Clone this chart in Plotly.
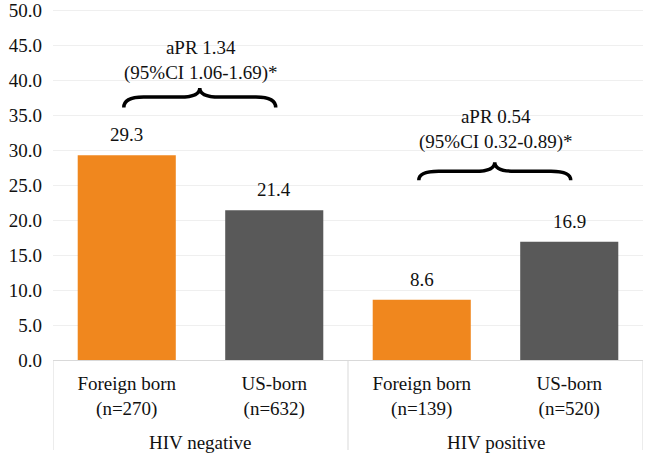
import plotly.graph_objects as go

# ---- data ----
groups = ["HIV negative", "HIV positive"]
group_members = [(0, 1), (2, 3)]
categories = ["Foreign born<br>(n=270)", "US-born<br>(n=632)",
              "Foreign born<br>(n=139)", "US-born<br>(n=520)"]
values = [29.3, 21.4, 8.6, 16.9]
bar_colors = ["#F0871E", "#595959", "#F0871E", "#595959"]
apr_labels = ["aPR 1.34<br>(95%CI 1.06-1.69)*", "aPR 0.54<br>(95%CI 0.32-0.89)*"]
y_ticks = [0, 5, 10, 15, 20, 25, 30, 35, 40, 45, 50]

FONT = dict(family="Liberation Serif", size=19, color="#111111")
MARGIN_T, MARGIN_B = 9, 95
PLOT_H = 455 - MARGIN_T - MARGIN_B

xpos = list(range(len(categories)))

fig = go.Figure()
fig.add_trace(go.Bar(
    x=xpos, y=values,
    marker=dict(color=bar_colors, line=dict(width=0)),
    width=0.665, showlegend=False, hoverinfo="skip",
))

# data labels
for i, v in zip(xpos, values):
    fig.add_annotation(x=i, y=v, text=f"{v:.1f}", showarrow=False,
                       yanchor="bottom", yshift=8, font=FONT)

# braces + aPR texts
brace_base = [36.1, 25.7]
brace_rise = [1.5, 1.3]
brace_tip = [2.8, 2.6]
text_y = [42.9, 32.9]


def brace_path(x0, x1, yb, ym, yt):
    xm = (x0 + x1) / 2
    a = 0.13 * (x1 - x0)
    return (f"M {x0},{yb} Q {x0},{ym} {x0 + a},{ym} L {xm - a},{ym} "
            f"Q {xm},{ym} {xm},{yt} Q {xm},{ym} {xm + a},{ym} "
            f"L {x1 - a},{ym} Q {x1},{ym} {x1},{yb}")


for k, (i, j) in enumerate(group_members):
    yb = brace_base[k]
    fig.add_shape(type="path", xref="x", yref="y",
                  path=brace_path(i - 0.02, j + 0.01, yb, yb + brace_rise[k], yb + brace_tip[k]),
                  line=dict(color="black", width=3.5))
    fig.add_annotation(x=(i + j) / 2, y=text_y[k], text=apr_labels[k],
                       showarrow=False, yanchor="middle", font=FONT)

# group labels and dividers
div_len = 90 / PLOT_H
for k, (i, j) in enumerate(group_members):
    fig.add_annotation(x=(i + j) / 2, xref="x", y=0, yref="paper", yanchor="middle",
                       yshift=-82, text=groups[k], showarrow=False, font=FONT)
bounds = [group_members[0][0] - 0.5] + [g[1] + 0.5 for g in group_members]
for b in bounds:
    fig.add_shape(type="line", xref="x", yref="paper", x0=b, x1=b, y0=0, y1=-div_len,
                  line=dict(color="#d9d9d9", width=1))

fig.update_layout(
    width=650, height=455,
    margin=dict(l=53, r=7, t=MARGIN_T, b=MARGIN_B, autoexpand=False),
    paper_bgcolor="white", plot_bgcolor="white",
    font=FONT,
)
fig.update_xaxes(
    range=[-0.5, 3.5], tickvals=xpos, ticktext=categories,
    showline=True, linecolor="#d9d9d9", linewidth=1,
    showgrid=False, zeroline=False, ticks="", tickfont=FONT,
    ticklabelstandoff=6, automargin=False,
)
fig.update_yaxes(
    range=[0, 50.2], tickvals=y_ticks, ticktext=[f"{t:.1f}" for t in y_ticks],
    showgrid=True, gridcolor="#efefef", gridwidth=1,
    zeroline=False, showline=False, ticks="",
    ticklabelstandoff=10, tickfont=FONT, automargin=False,
)

fig.write_html("out.html")
